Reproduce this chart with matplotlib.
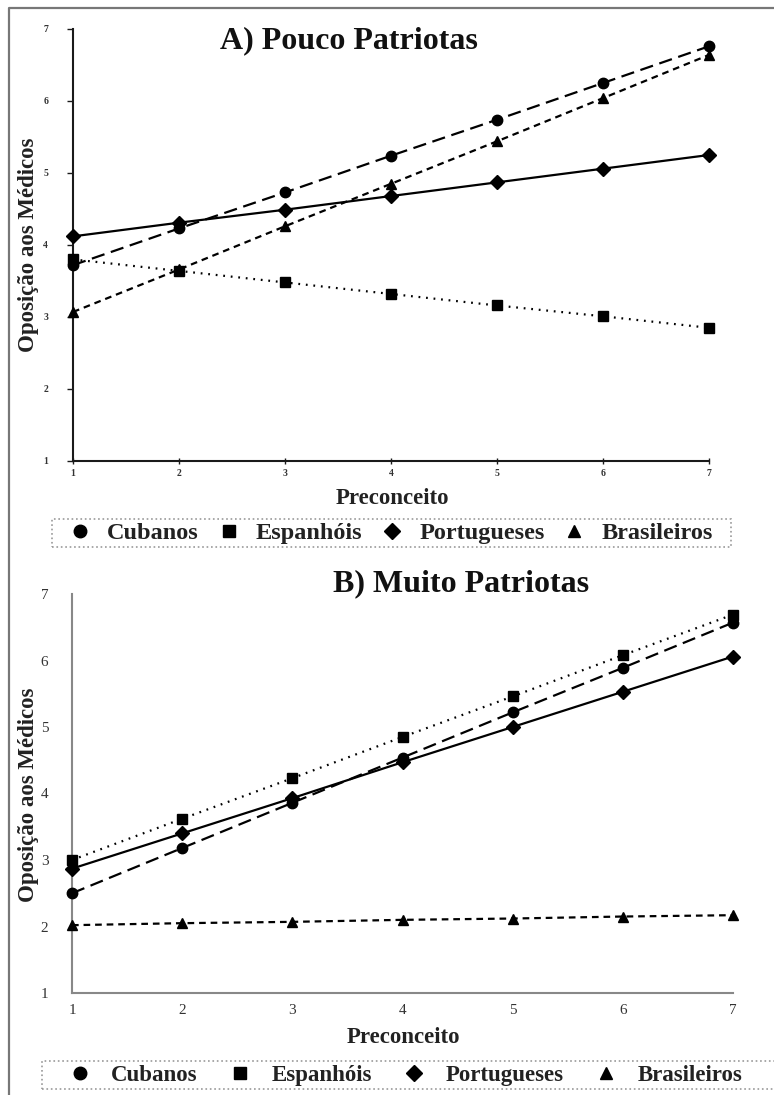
import matplotlib
matplotlib.use("Agg")
import matplotlib.pyplot as plt
from matplotlib.lines import Line2D
from matplotlib.patches import Rectangle

# ---------------- data ----------------
preconceito = [1, 2, 3, 4, 5, 6, 7]
groups = ["Cubanos", "Espanhóis", "Portugueses", "Brasileiros"]

# A) Pouco Patriotas
a_cubanos = [3.72, 4.23, 4.73, 5.24, 5.74, 6.25, 6.76]
a_espanhois = [3.80, 3.64, 3.48, 3.32, 3.16, 3.01, 2.85]
a_portugueses = [4.12, 4.31, 4.49, 4.68, 4.87, 5.06, 5.25]
a_brasileiros = [3.07, 3.66, 4.26, 4.85, 5.44, 6.04, 6.64]

# B) Muito Patriotas
b_cubanos = [2.50, 3.18, 3.86, 4.54, 5.22, 5.89, 6.57]
b_espanhois = [3.00, 3.62, 4.23, 4.85, 5.46, 6.08, 6.69]
b_portugueses = [2.87, 3.40, 3.93, 4.47, 5.00, 5.53, 6.06]
b_brasileiros = [2.02, 2.05, 2.07, 2.10, 2.12, 2.15, 2.17]

yticks = [1, 2, 3, 4, 5, 6, 7]
title_a = "A) Pouco Patriotas"
title_b = "B) Muito Patriotas"
xlabel = "Preconceito"
ylabel = "Oposição aos Médicos"

# ---------------- style ----------------
plt.rcParams['font.family'] = ['Liberation Serif', 'DejaVu Serif']
W, H = 774, 1095
fig = plt.figure(figsize=(W / 100, H / 100), dpi=100)

def px(x0, y0, x1, y1):
    return [x0 / W, 1 - y1 / H, (x1 - x0) / W, (y1 - y0) / H]

styles = {
    "Cubanos": dict(marker='o', dashes=(6, 3), ms=7.5),
    "Espanhóis": dict(marker='s', dashes=(0.8, 2.6), ms=6.5),
    "Portugueses": dict(marker='D', dashes=(), ms=6.8),
    "Brasileiros": dict(marker='^', dashes=(3, 2.2), ms=7.5),
}

def draw(ax, series, spine_color, tick_fs, xpad, ypad, ticklen):
    for name, vals in zip(groups, series):
        st = styles[name]
        kw = dict(color='black', lw=1.6, marker=st['marker'], ms=st['ms'],
                  markeredgecolor='black', markerfacecolor='black', zorder=3,
                  clip_on=False)
        if st['dashes']:
            ax.plot(preconceito, vals, dashes=st['dashes'], **kw)
        else:
            ax.plot(preconceito, vals, linestyle='-', **kw)
    ax.set_xlim(1, 7)
    ax.set_ylim(1, 7)
    ax.set_xticks(preconceito)
    ax.set_yticks(yticks)
    for s in ['top', 'right']:
        ax.spines[s].set_visible(False)
    for s in ['left', 'bottom']:
        ax.spines[s].set_color(spine_color)
        ax.spines[s].set_linewidth(1.5)
    ax.tick_params(axis='both', labelsize=tick_fs, colors=spine_color,
                   labelcolor='#333333', length=ticklen, width=1.0)
    ax.tick_params(axis='x', pad=xpad, direction='inout')
    ax.tick_params(axis='y', pad=ypad, direction='out')
    for lab in ax.get_xticklabels() + ax.get_yticklabels():
        lab.set_fontweight('bold' if tick_fs < 9 else 'normal')
    ax.patch.set_alpha(0)

LABEL_FS = 16.5

# Top panel
ax1 = fig.add_axes(px(73, 29, 709, 461))
draw(ax1, [a_cubanos, a_espanhois, a_portugueses, a_brasileiros],
     '#1a1a1a', 7, 4, 14, 4)
ax1.set_xlabel(xlabel, fontsize=LABEL_FS, fontweight='bold', color='#222222')
ax1.xaxis.set_label_coords((392 - 73) / 636, (461 - 488) / 432)
ax1.set_ylabel(ylabel, fontsize=LABEL_FS, fontweight='bold', color='#222222')
ax1.yaxis.set_label_coords((39 - 73) / 636, (461 - 245) / 432)

# Bottom panel
ax2 = fig.add_axes(px(72, 594, 733, 993))
draw(ax2, [b_cubanos, b_espanhois, b_portugueses, b_brasileiros],
     '#888888', 11, 8, 17, 0)
ax2.set_xlabel(xlabel, fontsize=LABEL_FS, fontweight='bold', color='#222222')
ax2.xaxis.set_label_coords((403 - 72) / 661, (993 - 1027) / 399)
ax2.set_ylabel(ylabel, fontsize=LABEL_FS, fontweight='bold', color='#222222')
ax2.yaxis.set_label_coords((39 - 72) / 661, (993 - 795) / 399)

# Titles
fig.text(349 / W, 1 - 41 / H, title_a, ha='center', va='center',
         fontsize=23, fontweight='bold', color='#111111')
fig.text(461 / W, 1 - 584 / H, title_b, ha='center', va='center',
         fontsize=23, fontweight='bold', color='#111111')

# Legends
def add_legend(x0, y0, x1, y1, first_marker_x, fs, textpad, colspace):
    fs_px = fs * 100 / 72
    hl = 1.0
    handles = [Line2D([], [], color='black', linestyle='none',
                      marker=styles[g]['marker'], ms=styles[g]['ms'] + 1.5)
               for g in groups]
    yc = 1 - (y0 + y1) / 2 / H
    leg = fig.legend(handles, groups, loc='center left',
                     bbox_to_anchor=((first_marker_x - hl * fs_px / 2) / W, yc),
                     ncol=4, frameon=False,
                     prop=dict(family='Liberation Serif', weight='bold', size=fs),
                     handlelength=hl, handletextpad=textpad, columnspacing=colspace,
                     borderpad=0, borderaxespad=0)
    for t in leg.get_texts():
        t.set_color('#222222')
    fig.add_artist(Rectangle((x0 / W, 1 - y1 / H), (x1 - x0) / W, (y1 - y0) / H,
                             transform=fig.transFigure, fill=False,
                             edgecolor='#999999', linestyle=':', lw=1.2))
    return leg

add_legend(52, 519, 731, 547, 80, 17.5, 0.61, 0.73)
add_legend(42, 1061, 790, 1089, 80, 16.5, 0.85, 1.37)

# Outer border (top and left)
fig.add_artist(Line2D([9 / W, 9 / W, 1.0], [0.0, 1 - 8 / H, 1 - 8 / H],
                      transform=fig.transFigure, color='#777777', lw=1.6))

fig.savefig("out.png", dpi=100)
